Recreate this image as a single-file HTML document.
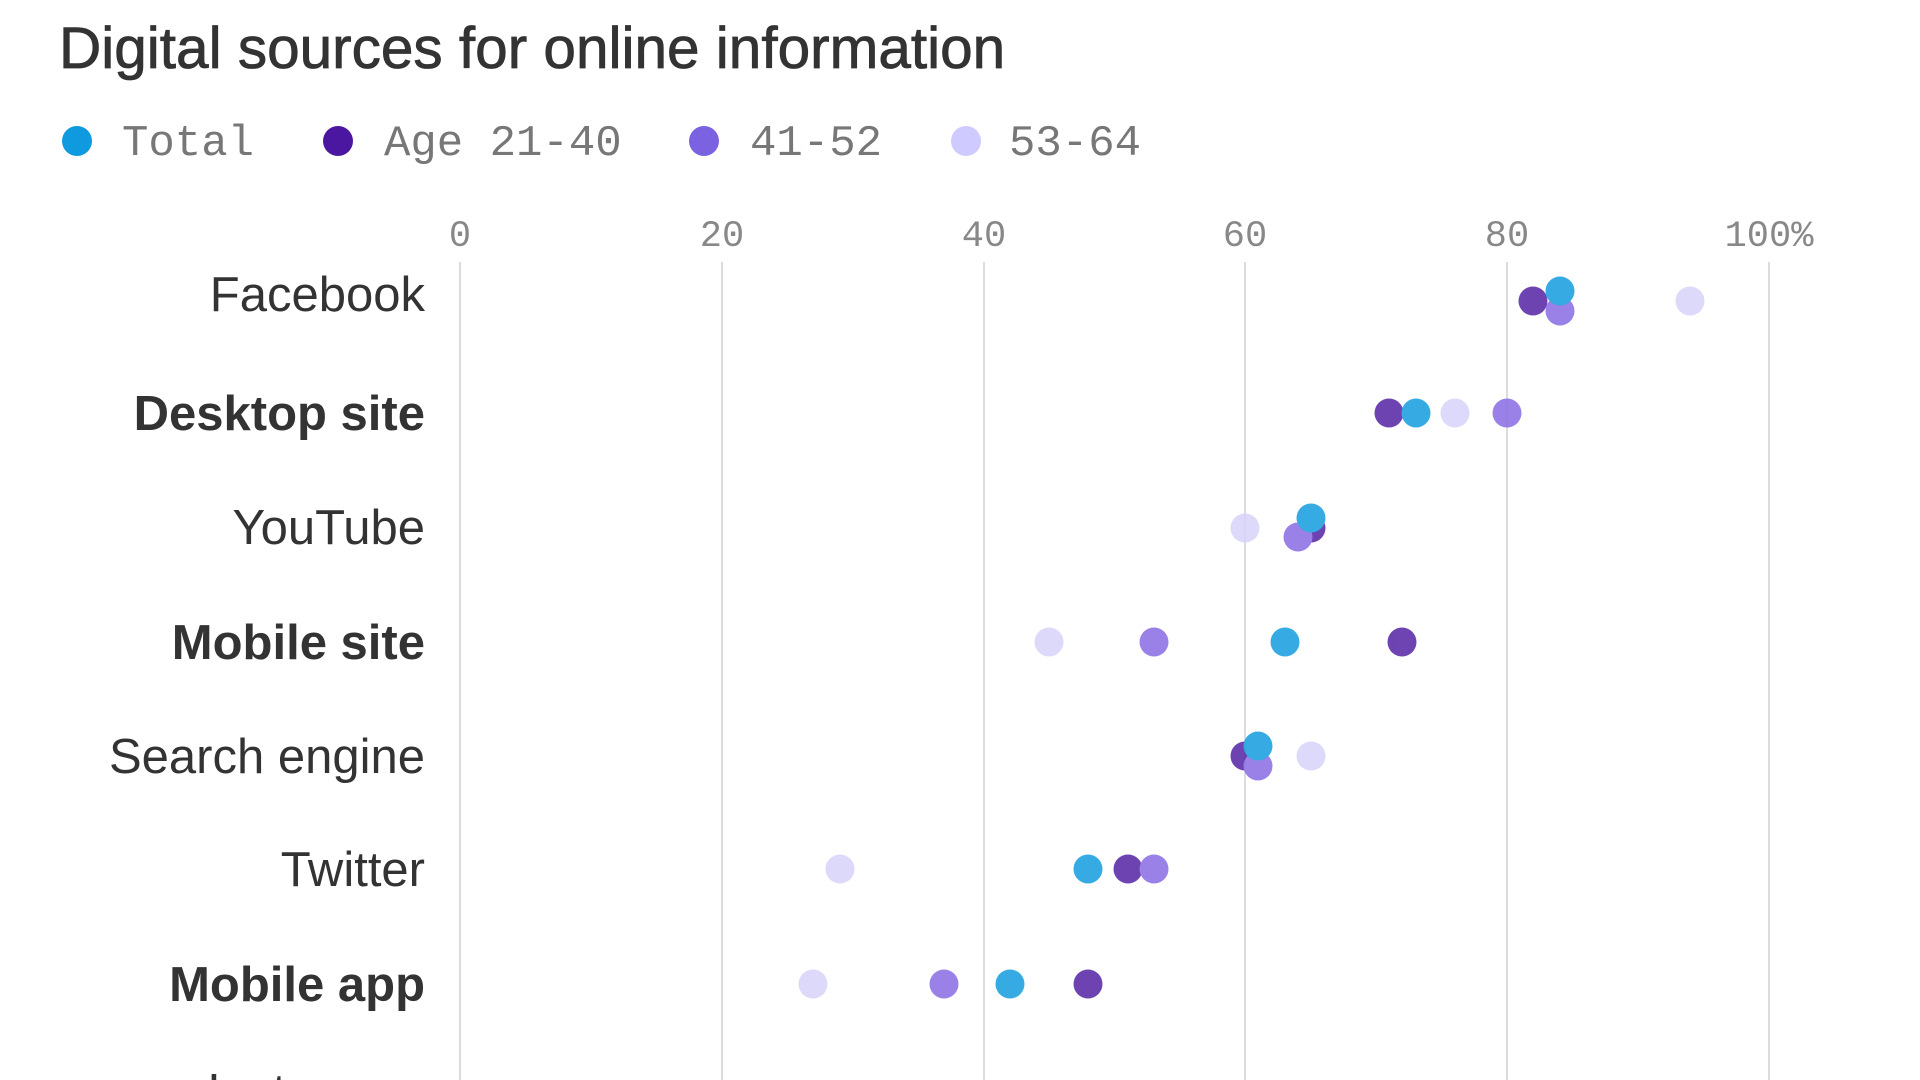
<!DOCTYPE html>
<html><head><meta charset="utf-8"><style>
html,body{margin:0;padding:0;background:#fff;width:1920px;height:1080px;overflow:hidden}
</style></head><body>
<svg width="1920" height="1080" xmlns="http://www.w3.org/2000/svg">
<text x="59" y="68" font-family="Liberation Sans, sans-serif" font-size="58.5" fill="#333" stroke="#333" stroke-width="0.8">Digital sources for online information</text>
<g font-family="Liberation Mono, monospace" font-size="44" fill="#777">
<circle cx="77" cy="141" r="15" fill="#0f9ae0"/><text x="122" y="155">Total</text>
<circle cx="338" cy="141" r="15" fill="#4b17a0"/><text x="384" y="155">Age 21-40</text>
<circle cx="704" cy="141" r="15" fill="#7b62e0"/><text x="750" y="155">41-52</text>
<circle cx="966" cy="141" r="15" fill="#cfcaff"/><text x="1009" y="155">53-64</text>
</g>
<g stroke="#dcdcdc" stroke-width="2">
<line x1="460" y1="262" x2="460" y2="1080"/><line x1="722" y1="262" x2="722" y2="1080"/><line x1="984" y1="262" x2="984" y2="1080"/><line x1="1245" y1="262" x2="1245" y2="1080"/><line x1="1507" y1="262" x2="1507" y2="1080"/><line x1="1769" y1="262" x2="1769" y2="1080"/>
</g>
<g font-family="Liberation Mono, monospace" font-size="37" fill="#888" text-anchor="middle">
<text x="460" y="246">0</text><text x="722" y="246">20</text><text x="984" y="246">40</text><text x="1245" y="246">60</text><text x="1507" y="246">80</text><text x="1769" y="246">100%</text>
</g>
<g font-family="Liberation Sans, sans-serif" font-size="49" fill="#333" text-anchor="end">
<text x="425" y="311">Facebook</text>
<text x="425" y="430" font-weight="bold">Desktop site</text>
<text x="425" y="544">YouTube</text>
<text x="425" y="659" font-weight="bold">Mobile site</text>
<text x="425" y="773">Search engine</text>
<text x="425" y="886">Twitter</text>
<text x="425" y="1001" font-weight="bold">Mobile app</text>
<text x="425" y="1108">Instagram</text>
</g>
<g opacity="0.88">
<circle cx="1690" cy="301" r="14.5" fill="#d8d4fb"/><circle cx="1533" cy="301" r="14.5" fill="#5a2aa8"/><circle cx="1560" cy="311" r="14.5" fill="#8c70e4"/><circle cx="1560" cy="291" r="14.5" fill="#1a9fe0"/>
<circle cx="1455" cy="413" r="14.5" fill="#d8d4fb"/><circle cx="1389" cy="413" r="14.5" fill="#5a2aa8"/><circle cx="1507" cy="413" r="14.5" fill="#8c70e4"/><circle cx="1416" cy="413" r="14.5" fill="#1a9fe0"/>
<circle cx="1245" cy="528" r="14.5" fill="#d8d4fb"/><circle cx="1311" cy="528" r="14.5" fill="#5a2aa8"/><circle cx="1298" cy="537" r="14.5" fill="#8c70e4"/><circle cx="1311" cy="518" r="14.5" fill="#1a9fe0"/>
<circle cx="1049" cy="642" r="14.5" fill="#d8d4fb"/><circle cx="1402" cy="642" r="14.5" fill="#5a2aa8"/><circle cx="1154" cy="642" r="14.5" fill="#8c70e4"/><circle cx="1285" cy="642" r="14.5" fill="#1a9fe0"/>
<circle cx="1311" cy="756" r="14.5" fill="#d8d4fb"/><circle cx="1245" cy="756" r="14.5" fill="#5a2aa8"/><circle cx="1258" cy="766" r="14.5" fill="#8c70e4"/><circle cx="1258" cy="746" r="14.5" fill="#1a9fe0"/>
<circle cx="840" cy="869" r="14.5" fill="#d8d4fb"/><circle cx="1128" cy="869" r="14.5" fill="#5a2aa8"/><circle cx="1154" cy="869" r="14.5" fill="#8c70e4"/><circle cx="1088" cy="869" r="14.5" fill="#1a9fe0"/>
<circle cx="813" cy="984" r="14.5" fill="#d8d4fb"/><circle cx="1088" cy="984" r="14.5" fill="#5a2aa8"/><circle cx="944" cy="984" r="14.5" fill="#8c70e4"/><circle cx="1010" cy="984" r="14.5" fill="#1a9fe0"/>
</g>
</svg>
</body></html>
